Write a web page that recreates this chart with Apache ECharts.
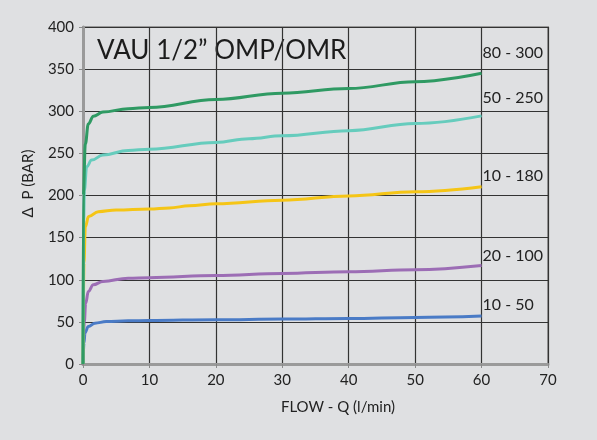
<!DOCTYPE html>
<html lang="en">
<head>
    <meta charset="UTF-8">
    <title>VAU 1/2" OMP/OMR</title>
    <style>
        * { margin: 0; padding: 0; box-sizing: border-box; }
        body { background-color: #dfe0e2; }
        #chart { width: 597px; height: 440px; }
    </style>
    <script src="https://cdn.jsdelivr.net/npm/echarts@6/dist/echarts.min.js"></script>
</head>
<body>
    <div id="chart"></div>
    <script>
        // 曲线数据 [流量, 压差]
        const flowTicks = [0, 10, 20, 30, 40, 50, 60, 70];
        const pressureTicks = [0, 50, 100, 150, 200, 250, 300, 350, 400];

        const curveNames = ['10 - 50', '20 - 100', '10 - 180', '50 - 250', '80 - 300'];

        const curve10_50 = [[0, 0], [0.15, 25], [0.3, 37], [0.8, 44.5], [1.8, 48.5], [3.5, 50.3], [6.8, 51.3], [10, 51.6],
            [20, 52.6], [30, 53.3], [40, 54], [50, 55.3], [60, 57]];
        const curve20_100 = [[0, 0], [0.2, 50], [0.4, 72], [0.8, 86], [1.55, 94], [3, 98], [6.8, 101.8], [10, 102.5],
            [20, 105], [30, 107.5], [40, 109.5], [50, 112], [60, 117]];
        const curve10_180 = [[0, 0], [0.15, 120], [0.35, 163], [0.84, 175], [2.3, 180.8], [5, 182.8], [10, 184],
            [13, 185.2], [16, 187.8], [20, 190.3], [30, 194.5], [40, 199.5], [50, 204.5], [60, 210.5]];
        const curve50_250 = [[0, 0], [0.1, 170], [0.2, 206], [0.55, 234], [1.3, 242], [3, 248], [6.8, 253.5], [10, 255],
            [20, 263], [25, 267.5], [30, 271], [40, 277], [50, 285.5], [60, 294.5]];
        const curve80_300 = [[0, 0], [0.05, 200], [0.35, 261], [0.8, 285], [1.55, 294], [3, 299], [6.8, 303], [10, 304.5],
            [20, 314], [30, 321.5], [40, 327], [50, 335], [60, 345]];

        const curves = [curve10_50, curve20_100, curve10_180, curve50_250, curve80_300];
        const colors = ['#4a7bc6', '#9c6db5', '#f5c516', '#66ccbd', '#2f9a63'];
        const labelOffsets = [[-2, -11], [-2, -10], [-2, -11], [-2, -18], [-2, -20]];

        const chart = echarts.init(document.getElementById('chart'));

        const axisFont = { fontFamily: 'Lato, sans-serif', fontSize: 15, color: '#222' };

        const option = {
            backgroundColor: '#dfe0e2',
            animation: false,
            grid: {
                left: 83, right: 49, top: 27, bottom: 76,
                outerBoundsMode: 'none',
                containLabel: false,
                show: true,
                borderColor: '#9a9a9a',
                borderWidth: 2
            },
            graphic: [{
                type: 'text',
                left: 97,
                top: 38,
                style: {
                    text: 'VAU 1/2\u201D OMP/OMR',
                    font: '400 26px Lato, sans-serif',
                    fill: '#1c1c1c'
                }
            }],
            xAxis: {
                type: 'value',
                min: flowTicks[0],
                max: flowTicks[flowTicks.length - 1],
                interval: 10,
                name: 'FLOW - Q (l/min)',
                nameLocation: 'middle',
                nameGap: 36,
                nameTextStyle: { fontFamily: 'Lato, sans-serif', fontSize: 15, color: '#222', padding: [0, 0, 0, 45] },
                axisLine: { lineStyle: { color: '#9a9a9a', width: 3 } },
                axisTick: { show: true, length: 4, lineStyle: { color: '#8a8a8a' } },
                axisLabel: Object.assign({ margin: 9 }, axisFont),
                splitLine: { show: true, lineStyle: { color: '#333', width: 1.2 } }
            },
            yAxis: {
                type: 'value',
                min: pressureTicks[0],
                max: pressureTicks[pressureTicks.length - 1],
                interval: 50,
                name: '\u0394  P (BAR)',
                nameLocation: 'middle',
                nameGap: 47,
                nameTextStyle: { fontFamily: 'Lato, sans-serif', fontSize: 15, color: '#222', padding: [0, 0, 0, 24] },
                axisLine: { show: true, lineStyle: { color: '#9a9a9a', width: 3 } },
                axisTick: { show: true, length: 4, lineStyle: { color: '#8a8a8a' } },
                axisLabel: Object.assign({ margin: 9 }, axisFont),
                splitLine: { show: true, lineStyle: { color: '#333', width: 1.2 } }
            },
            series: curves.map(function (data, i) {
                return {
                    name: curveNames[i],
                    type: 'line',
                    data: data,
                    showSymbol: false,
                    smooth: 0.4,
                    smoothMonotone: 'x',
                    lineStyle: { color: colors[i], width: 3 },
                    z: 3 + i,
                    endLabel: {
                        show: true,
                        formatter: curveNames[i],
                        distance: 3,
                        offset: labelOffsets[i],
                        fontFamily: 'Lato, sans-serif',
                        fontSize: 16,
                        color: '#222'
                    }
                };
            })
        };

        chart.setOption(option);
    </script>
</body>
</html>
